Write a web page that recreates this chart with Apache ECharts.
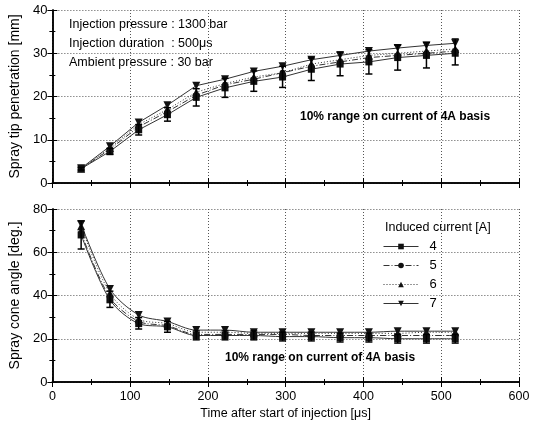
<!DOCTYPE html>
<html><head><meta charset="utf-8">
<script src="https://cdn.jsdelivr.net/npm/echarts@6/dist/echarts.min.js"></script>
<style>html,body{margin:0;padding:0;background:#fff}#c{width:541px;height:424px}</style>
</head><body><div id="c"></div>
<script>
// Time after start of injection [µs]
const times = [37, 74, 111, 148, 185, 222, 259, 296, 333, 370, 407, 444, 481, 518];
const seriesNames = ['4', '5', '6', '7'];
// Spray tip penetration [mm]
const tip4 = [3.3, 7.3, 12.3, 15.8, 19.8, 22.0, 23.5, 24.5, 26.3, 27.5, 28.0, 29.0, 29.5, 30.0];
const tip5 = [3.3, 7.8, 13.0, 16.5, 20.3, 22.7, 24.0, 25.5, 27.0, 28.0, 29.0, 29.5, 30.0, 30.5];
const tip6 = [3.3, 8.1, 13.5, 17.0, 21.0, 23.0, 24.5, 25.5, 27.5, 28.5, 29.5, 30.0, 30.5, 31.0];
const tip7 = [3.4, 8.5, 14.0, 18.0, 22.5, 24.0, 25.8, 27.0, 28.5, 29.5, 30.5, 31.2, 31.8, 32.3];
const tipErrLow  = [3.0, 6.6, 11.1, 14.3, 17.8, 19.8, 21.2, 22.1, 23.7, 24.8, 25.2, 26.1, 26.6, 27.3];
const tipErrHigh = [3.6, 8.0, 13.5, 17.4, 21.8, 24.2, 25.9, 27.0, 28.9, 30.3, 30.8, 31.9, 32.5, 33.3];
// Spray cone angle [deg.]
const cone4 = [68, 38, 27, 25.5, 21.5, 21.5, 21.5, 21.0, 21.0, 20.5, 20.5, 20.0, 20.0, 20.0];
const cone5 = [69, 39, 28, 26.0, 22.0, 22.0, 22.0, 22.0, 21.5, 21.5, 21.5, 21.5, 21.5, 21.5];
const cone6 = [72, 41, 29, 27.0, 23.0, 23.0, 22.5, 22.5, 22.5, 22.5, 22.5, 22.5, 23.0, 23.0];
const cone7 = [73, 43, 31, 28.0, 24.0, 24.0, 23.0, 23.0, 23.0, 23.0, 23.0, 23.5, 23.5, 23.5];
const coneErrLow  = [61.5, 34.5, 24.5, 23.0, 19.5, 19.5, 19.5, 19.0, 19.0, 18.5, 18.5, 18.0, 18.0, 18.0];
const coneErrHigh = [74.5, 42.0, 29.8, 28.0, 23.6, 23.6, 23.6, 23.1, 23.1, 22.6, 22.6, 22.0, 22.0, 22.0];

const FONT = 'Liberation Sans, Arial, sans-serif';
const chart = echarts.init(document.getElementById('c'));

const styles = [
  {symbol: 'rect', size: 7, rot: 0, type: 'solid'},
  {symbol: 'circle', size: 6, rot: 0, type: [6, 2, 1, 2]},
  {symbol: 'triangle', size: 8, rot: 0, type: [1, 2]},
  {symbol: 'triangle', size: 8, rot: 180, type: 'solid'}
];

function lineSeries(name, vals, idx, gi, smooth) {
  const s = styles[idx];
  return {
    type: 'line', name: name, xAxisIndex: gi * 2, yAxisIndex: gi * 2,
    data: times.map((t, i) => [t, vals[i]]),
    symbol: s.symbol, symbolSize: s.size, symbolRotate: s.rot,
    smooth: smooth,
    lineStyle: {color: '#333', width: 1, type: s.type},
    itemStyle: {color: '#111'},
    emphasis: {disabled: true}, z: 3
  };
}
function errSeries(lo, hi, gi) {
  return {
    type: 'custom', xAxisIndex: gi * 2, yAxisIndex: gi * 2,
    data: times.map((t, i) => [t, lo[i], hi[i]]),
    encode: {x: 0, y: [1, 2]}, z: 4,
    renderItem: function (params, api) {
      const p1 = api.coord([api.value(0), api.value(1)]);
      const p2 = api.coord([api.value(0), api.value(2)]);
      const w = 3.5;
      const st = {stroke: '#000', lineWidth: 1.5};
      return {type: 'group', children: [
        {type: 'line', shape: {x1: p1[0], y1: p1[1], x2: p2[0], y2: p2[1]}, style: st},
        {type: 'line', shape: {x1: p1[0] - w, y1: p1[1], x2: p1[0] + w, y2: p1[1]}, style: st},
        {type: 'line', shape: {x1: p2[0] - w, y1: p2[1], x2: p2[0] + w, y2: p2[1]}, style: st}
      ]};
    }
  };
}

const grids = [
  {left: 51, right: 22, top: 10, height: 173},
  {left: 51, right: 22, top: 209, height: 173}
];
const axLine = {show: true, lineStyle: {color: '#000', width: 1.5}};
const split = {show: true, lineStyle: {color: '#555', width: 1, type: [1, 2]}};
function xAxes(gi, labels) {
  return [
    {type: 'value', gridIndex: gi, min: 0, max: 600, interval: 100, position: 'bottom',
     axisLine: axLine, axisTick: {inside: true, length: 5, lineStyle: {color: '#000'}},
     minorTick: {show: true, splitNumber: 2, length: 3, lineStyle: {color: '#000'}},
     axisLabel: {show: labels, color: '#000', fontFamily: FONT, fontSize: 12.5, margin: 8},
     splitLine: split,
     name: labels ? 'Time after start of injection [\u03bcs]' : '', nameLocation: 'middle', nameGap: 25,
     nameTextStyle: {color: '#000', fontFamily: FONT, fontSize: 12.5}},
    {type: 'value', gridIndex: gi, min: 0, max: 600, interval: 100, position: 'top',
     axisLine: axLine, axisTick: {inside: true, length: 5, lineStyle: {color: '#000'}},
     minorTick: {show: true, splitNumber: 2, length: 3, lineStyle: {color: '#000'}},
     axisLabel: {show: false}, splitLine: {show: false}}
  ];
}
function yAxes(gi, max, interval, name) {
  return [
    {type: 'value', gridIndex: gi, min: 0, max: max, interval: interval, position: 'left',
     axisLine: axLine, axisTick: {inside: true, length: 5, lineStyle: {color: '#000'}},
     minorTick: {show: true, splitNumber: 2, length: 3, lineStyle: {color: '#000'}},
     axisLabel: {color: '#000', fontFamily: FONT, fontSize: 13, margin: 5},
     splitLine: split,
     name: name, nameLocation: 'middle', nameGap: 28,
     nameTextStyle: {color: '#000', fontFamily: FONT, fontSize: 14}},
    {type: 'value', gridIndex: gi, min: 0, max: max, interval: interval, position: 'right',
     axisLine: axLine, axisTick: {inside: true, length: 5, lineStyle: {color: '#000'}},
     minorTick: {show: true, splitNumber: 2, length: 3, lineStyle: {color: '#000'}},
     axisLabel: {show: false}, splitLine: {show: false}}
  ];
}

const option = {
  animation: false,
  backgroundColor: '#fff',
  textStyle: {fontFamily: FONT},
  grid: grids,
  xAxis: [...xAxes(0, false), ...xAxes(1, true)],
  yAxis: [...yAxes(0, 40, 10, 'Spray tip penetration [mm]'), ...yAxes(1, 80, 20, 'Spray cone angle [deg.]')],
  legend: {
    data: seriesNames, orient: 'vertical', left: 378, top: 235,
    itemWidth: 35, itemHeight: 7, itemGap: 6, selectedMode: false,
    lineStyle: {width: 1},
    textStyle: {color: '#000', fontFamily: FONT, fontSize: 13, padding: [0, 0, 0, 6]}
  },
  graphic: [
    {type: 'text', left: 69, top: 18, style: {text: 'Injection pressure : 1300 bar', font: '12.5px ' + FONT, fill: '#000'}},
    {type: 'text', left: 69, top: 37, style: {text: 'Injection duration  : 500\u03bcs', font: '12.5px ' + FONT, fill: '#000'}},
    {type: 'text', left: 69, top: 56, style: {text: 'Ambient pressure : 30 bar', font: '12.5px ' + FONT, fill: '#000'}},
    {type: 'text', left: 300, top: 111, style: {text: '10% range on current of 4A basis', font: 'bold 12px ' + FONT, fill: '#000'}},
    {type: 'text', left: 225, top: 352, style: {text: '10% range on current of 4A basis', font: 'bold 12px ' + FONT, fill: '#000'}},
    {type: 'text', left: 385, top: 221, style: {text: 'Induced current [A]', font: '12.5px ' + FONT, fill: '#000'}}
  ],
  series: [
    lineSeries('4', tip4, 0, 0, false),
    lineSeries('5', tip5, 1, 0, false),
    lineSeries('6', tip6, 2, 0, false),
    lineSeries('7', tip7, 3, 0, false),
    errSeries(tipErrLow, tipErrHigh, 0),
    lineSeries('4', cone4, 0, 1, 0.3),
    lineSeries('5', cone5, 1, 1, 0.3),
    lineSeries('6', cone6, 2, 1, 0.3),
    lineSeries('7', cone7, 3, 1, 0.3),
    errSeries(coneErrLow, coneErrHigh, 1)
  ]
};
chart.setOption(option);
</script></body></html>
